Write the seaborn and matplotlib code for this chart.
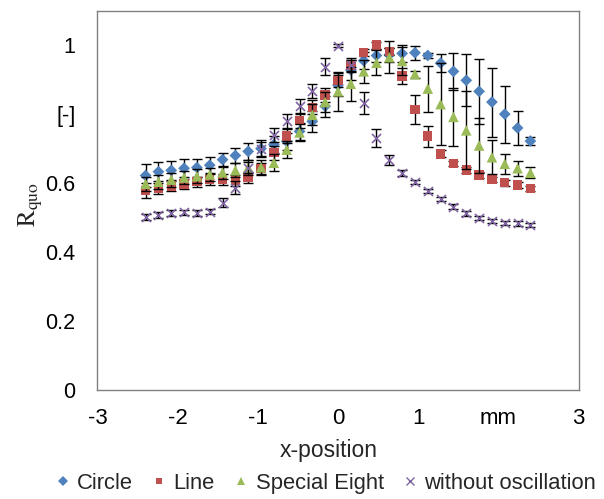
import matplotlib
matplotlib.use("Agg")
import matplotlib.pyplot as plt
from matplotlib.lines import Line2D
import numpy as np
import pandas as pd
import seaborn as sns

# ---- data ----
x_pos = [-2.40, -2.24, -2.08, -1.92, -1.76, -1.60, -1.44, -1.28, -1.12, -0.96,
         -0.80, -0.64, -0.48, -0.32, -0.16, 0.00, 0.16, 0.32, 0.48, 0.64,
         0.80, 0.96, 1.12, 1.28, 1.44, 1.60, 1.76, 1.92, 2.08, 2.24, 2.40]

circle = [0.622, 0.633, 0.637, 0.643, 0.645, 0.652, 0.668, 0.680, 0.692, 0.700,
          0.712, 0.721, 0.750, 0.779, 0.823, 0.884, 0.928, 0.955, 0.970, 0.972,
          0.976, 0.978, 0.970, 0.948, 0.924, 0.898, 0.866, 0.835, 0.800, 0.760, 0.722]
circle_err = [0.034, 0.028, 0.028, 0.026, 0.026, 0.024, 0.020, 0.022, 0.025, 0.025,
              0.025, 0.025, 0.025, 0.030, 0.030, 0.030, 0.030, 0.025, 0.020, 0.020,
              0.025, 0.020, 0.008, 0.026, 0.053, 0.075, 0.094, 0.100, 0.083, 0.050, 0.012]

line = [0.579, 0.585, 0.591, 0.597, 0.604, 0.610, 0.610, 0.608, 0.616, 0.642,
        0.688, 0.736, 0.781, 0.820, 0.856, 0.898, 0.941, 0.979, 1.000, 0.981,
        0.911, 0.813, 0.736, 0.685, 0.657, 0.638, 0.623, 0.611, 0.601, 0.595, 0.585]
line_err = [0.021, 0.016, 0.015, 0.015, 0.015, 0.015, 0.015, 0.015, 0.015, 0.015,
            0.020, 0.020, 0.020, 0.020, 0.020, 0.020, 0.015, 0.010, 0.010, 0.010,
            0.024, 0.043, 0.031, 0.010, 0.008, 0.008, 0.008, 0.008, 0.008, 0.008, 0.008]

eight = [0.598, 0.604, 0.610, 0.616, 0.620, 0.625, 0.631, 0.637, 0.645, 0.646,
         0.659, 0.697, 0.747, 0.798, 0.835, 0.866, 0.888, 0.924, 0.949, 0.965,
         0.954, 0.916, 0.874, 0.829, 0.792, 0.753, 0.709, 0.675, 0.656, 0.643, 0.630]
eight_err = [0.020, 0.020, 0.020, 0.020, 0.020, 0.020, 0.020, 0.020, 0.022, 0.022,
             0.025, 0.025, 0.025, 0.030, 0.030, 0.056, 0.050, 0.033, 0.036, 0.046,
             0.040, 0.010, 0.067, 0.119, 0.085, 0.113, 0.080, 0.050, 0.029, 0.021, 0.016]

noosc = [0.502, 0.508, 0.514, 0.515, 0.513, 0.517, 0.543, 0.587, 0.645, 0.700,
         0.739, 0.781, 0.823, 0.866, 0.938, 0.999, 0.943, 0.832, 0.731, 0.667,
         0.630, 0.603, 0.577, 0.553, 0.532, 0.512, 0.498, 0.491, 0.485, 0.483, 0.479]
noosc_err = [0.008, 0.008, 0.008, 0.008, 0.008, 0.008, 0.013, 0.020, 0.015, 0.020,
             0.020, 0.020, 0.020, 0.020, 0.024, 0.005, 0.020, 0.033, 0.026, 0.014,
             0.008, 0.006, 0.006, 0.006, 0.006, 0.006, 0.006, 0.006, 0.006, 0.006, 0.006]

series_names = ["Circle", "Line", "Special Eight", "without oscillation"]
x_ticks = [-3, -2, -1, 0, 1, 2, 3]
x_tick_labels = ["-3", "-2", "-1", "0", "1", "mm", "3"]
y_ticks = [0, 0.2, 0.4, 0.6, 0.8, 1.0]
y_tick_labels = ["0", "0.2", "0.4", "0.6", "[-]", "1"]

# ---- style ----
sns.set_style("white")
plt.rcParams["font.family"] = ["Liberation Sans", "DejaVu Sans"]
plt.rcParams["mathtext.fontset"] = "stix"

colors = {"Circle": "#4F81BD", "Line": "#C0504D",
          "Special Eight": "#9BBB59", "without oscillation": "#8064A2"}
markers = {"Circle": "D", "Line": "s", "Special Eight": "^", "without oscillation": "x"}
sizes = {"Circle": 36, "Line": 46, "Special Eight": 58, "without oscillation": 42}

values = {"Circle": (circle, circle_err), "Line": (line, line_err),
          "Special Eight": (eight, eight_err), "without oscillation": (noosc, noosc_err)}

frames = []
for name in series_names:
    v, e = values[name]
    frames.append(pd.DataFrame({"x": x_pos, "y": v, "err": e, "series": name}))
df = pd.concat(frames, ignore_index=True)

fig = plt.figure(figsize=(6.04, 4.99), dpi=100)
ax = fig.add_axes([0.1614, 0.2184, 0.7964, 0.7602])

for k, name in enumerate(series_names):
    sub = df[df["series"] == name]
    ax.errorbar(sub["x"], sub["y"], yerr=sub["err"], fmt="none", ecolor="black",
                elinewidth=1.0, capsize=3.5, capthick=1.0, zorder=2 + 2 * k)
    is_x = name == "without oscillation"
    sns.scatterplot(data=sub, x="x", y="y", ax=ax, color=colors[name],
                    marker=markers[name], s=sizes[name],
                    linewidth=(1.2 if is_x else 0),
                    edgecolor=(colors[name] if is_x else "none"),
                    zorder=3 + 2 * k, legend=False)

ax.set_xlim(-3, 3)
ax.set_ylim(0, 1.1)
ax.set_xticks(x_ticks)
ax.set_xticklabels(x_tick_labels, fontsize=16)
ax.set_yticks(y_ticks)
ax.set_yticklabels(y_tick_labels, fontsize=15.5)
ax.tick_params(axis="both", direction="in", length=5, width=1, color="#808080",
               labelcolor="black")
ax.tick_params(axis="x", pad=13)
ax.tick_params(axis="y", pad=16)
for sp in ax.spines.values():
    sp.set_visible(True)
    sp.set_color("#808080")
    sp.set_linewidth(1)

ax.set_xlabel("x-position", fontsize=16.5)
ax.xaxis.set_label_coords(0.481, -0.13)
ax.set_ylabel(r"$\mathrm{R_{quo}}$", fontsize=18)
ax.yaxis.set_label_coords(-0.11, 0.49)

handles = []
for name in series_names:
    if name == "without oscillation":
        h = Line2D([], [], linestyle="none", marker="x", color=colors[name],
                   markersize=6, markeredgewidth=1.0)
    else:
        h = Line2D([], [], linestyle="none", marker=markers[name], color=colors[name],
                   markersize=5 if name != "Special Eight" else 6, markeredgewidth=0)
    handles.append(h)
fig.legend(handles, series_names, loc="center", bbox_to_anchor=(0.54, 0.032),
           ncol=4, frameon=False, fontsize=15.8, handlelength=0.6, handletextpad=0.35,
           columnspacing=0.9, borderaxespad=0)

fig.savefig("out.png", dpi=100)
